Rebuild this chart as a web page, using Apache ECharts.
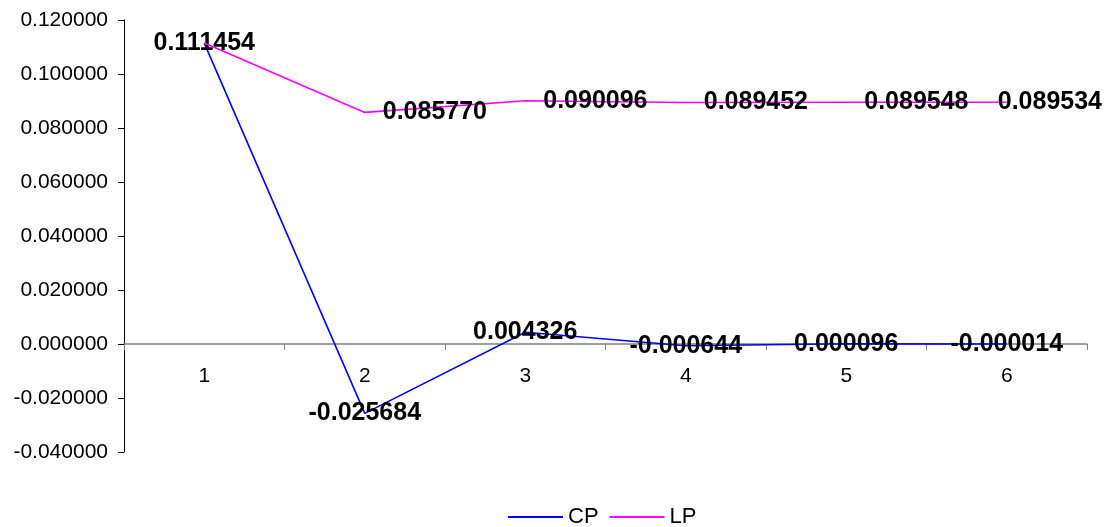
<!DOCTYPE html>
<html>
<head>
<meta charset="utf-8">
<script src="https://cdn.jsdelivr.net/npm/echarts@6/dist/echarts.min.js"></script>
<style>html,body{margin:0;padding:0;background:#fff}#c{width:1110px;height:527px}</style>
</head>
<body>
<div id="c"></div>
<script>
var categories = ['1', '2', '3', '4', '5', '6'];
var cpValues = [0.111454, -0.025684, 0.004326, -0.000644, 0.000096, -0.000014];
var lpValues = [0.111454, 0.085770, 0.090096, 0.089452, 0.089548, 0.089534];
var seriesNames = ['CP', 'LP'];

var FONT = '"Liberation Sans", Arial, sans-serif';
var chart = echarts.init(document.getElementById('c'), null, {renderer: 'canvas'});

var lpData = lpValues.map(function (v, i) {
  var item = {value: v};
  if (i === 0) item.label = {show: false};
  if (i === lpValues.length - 1) item.label = {position: [-9, 0], align: 'left', verticalAlign: 'middle'};
  return item;
});

function fmt(p) {
  var v = (typeof p.value === 'number') ? p.value : p.data.value;
  return v.toFixed(6);
}

chart.setOption({
  animation: false,
  grid: {left: 124, right: 23, top: 20, bottom: 75, containLabel: false},
  legend: {
    left: 503, top: 501,
    itemWidth: 55, itemHeight: 2, itemGap: 11,
    textStyle: {fontFamily: FONT, fontSize: 22, color: '#000'},
    data: [{name: seriesNames[0], icon: 'rect'}, {name: seriesNames[1], icon: 'rect'}]
  },
  xAxis: {
    type: 'category',
    data: categories,
    boundaryGap: true,
    offset: -108,
    axisLine: {onZero: false, lineStyle: {color: '#808080', width: 1.5}},
    axisTick: {show: true, length: 6, alignWithLabel: false, lineStyle: {color: '#808080'}},
    axisLabel: {fontFamily: FONT, fontSize: 21, color: '#000', margin: 22},
    splitLine: {show: false}
  },
  yAxis: {
    type: 'value',
    min: -0.04, max: 0.12, interval: 0.02,
    axisLine: {show: true, lineStyle: {color: '#000', width: 1}},
    axisTick: {show: true, length: 6, lineStyle: {color: '#000'}},
    axisLabel: {fontFamily: FONT, fontSize: 21, color: '#000', margin: 16,
      formatter: function (v) { return v.toFixed(6); }},
    splitLine: {show: false}
  },
  series: [
    {
      name: seriesNames[0], type: 'line', data: cpValues,
      showSymbol: true, symbol: 'circle', symbolSize: 0,
      lineStyle: {color: '#0000FF', width: 1.6}, itemStyle: {color: '#0000FF'},
      label: {show: true, position: 'inside', fontFamily: FONT, fontSize: 25, fontWeight: 'bold', color: '#000',
        formatter: fmt},
      labelLayout: {hideOverlap: false},
      z: 2
    },
    {
      name: seriesNames[1], type: 'line', data: lpData,
      showSymbol: true, symbol: 'circle', symbolSize: 0,
      lineStyle: {color: '#FF00FF', width: 1.6}, itemStyle: {color: '#FF00FF'},
      label: {show: true, position: 'right', distance: 18, fontFamily: FONT, fontSize: 25, fontWeight: 'bold', color: '#000',
        formatter: fmt},
      labelLayout: {hideOverlap: false},
      z: 3
    }
  ]
});
</script>
</body>
</html>
